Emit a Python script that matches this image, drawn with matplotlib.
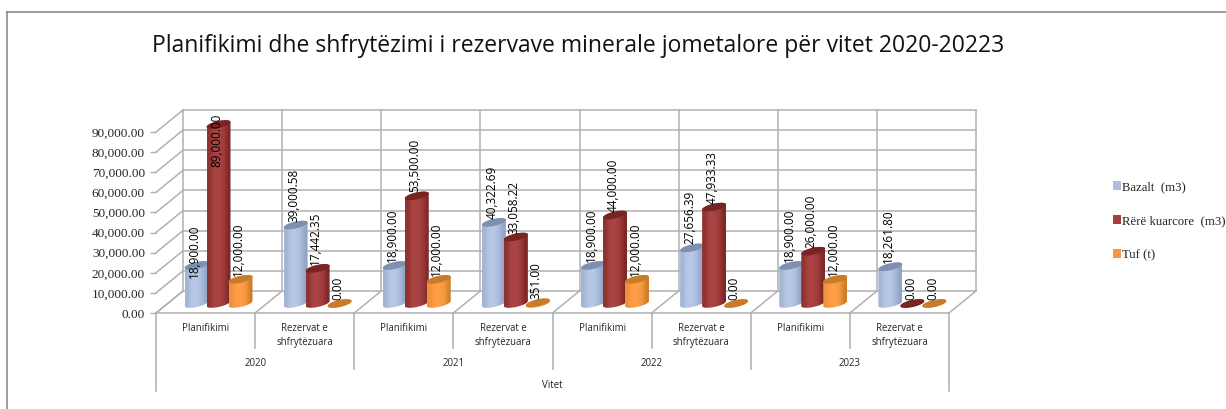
import numpy as np
import matplotlib
matplotlib.use("Agg")
import matplotlib.pyplot as plt
import matplotlib.ticker as mticker
from matplotlib.colors import to_rgb
from matplotlib.patches import Patch, Polygon

# ── Data ──────────────────────────────────────────────────────────────────────
YEARS = ["2020", "2021", "2022", "2023"]
CATEGORIES = ["Planifikimi", "Rezervat e\nshfrytëzuara"] * 4
BAZALT = [18900.00, 39000.58, 18900.00, 40322.69, 18900.00, 27656.39, 18900.00, 18261.80]
RERE = [89000.00, 17442.35, 53500.00, 33058.22, 44000.00, 47933.33, 26000.00, 0.00]
TUF = [12000.00, 0.00, 12000.00, 351.00, 12000.00, 0.00, 12000.00, 0.00]
SERIES_NAMES = ["Bazalt  (m3)", "Rërë kuarcore  (m3)", "Tuf (t)"]
Y_TICKS = list(range(0, 90001, 10000))

# ── Theme ─────────────────────────────────────────────────────────────────────
GRID = "#b0b0b0"
FRAME = "#8c8c8c"
TEXT = "#262626"
SANS = "Open Sans"
SERIF = "Liberation Serif"
SHADES = [
    ["#a3b5d4", "#b5c7e5", "#b7c9e6", "#aabcdb", "#93a6c7"],
    ["#8f3232", "#a84342", "#a94443", "#9f3c3b", "#7f2828"],
    ["#f0913a", "#ff9d45", "#ff9f48", "#f59640", "#cf7f2a"],
]
CAPS = ["#7d90b1", "#7a2323", "#c97c28"]
SWATCH = ["#aebfdc", "#a53f3e", "#f79646"]

# ── Layout (pixels of the 1226x409 figure) ────────────────────────────────────
W, H = 1226, 409
LEFT, RIGHT, FLOOR, TOP_TICK = 156, 949, 313, 132
PX_Y = 90000 / (FLOOR - TOP_TICK)          # value units per pixel
PX_X = 8 / (RIGHT - LEFT)                  # category units per pixel
DEPTH_X, DEPTH_Y = 27 * PX_X, 22 * PX_Y    # offset of the back wall
BASE = 9.5 * PX_Y                          # centre of the bar bottoms
BAR_W = 24 * PX_X
BAR_START = [28.5 * PX_X, 50.5 * PX_X, 72.5 * PX_X]
ELL_B, ELL_SKEW = 3.5 * PX_Y, 2.5 * PX_Y

fig = plt.figure(figsize=(W / 100, H / 100), dpi=100, facecolor="white")
ax = fig.add_axes([LEFT / W, 1 - FLOOR / H, (RIGHT - LEFT) / W, 213 / H])
ax.set_facecolor("none")
y_top = 213 * PX_Y


def ellipse_pts(cx, cy, a, t):
    return np.column_stack([cx + a * np.cos(t), cy + ELL_B * np.sin(t) + ELL_SKEW * np.cos(t)])


def cylinder(x0, value, idx):
    a = BAR_W / 2
    cx = x0 + a
    top = BASE + value
    lower = ellipse_pts(cx, BASE, a, np.linspace(np.pi, 2 * np.pi, 40))
    upper = ellipse_pts(cx, top, a, np.linspace(0, np.pi, 40))
    body = Polygon(np.vstack([lower, upper]), closed=True, fc="none", ec="none", zorder=3)
    ax.add_patch(body)
    grad = np.array([[to_rgb(c) for c in SHADES[idx]]])
    im = ax.imshow(grad, extent=[x0, x0 + BAR_W, BASE - 2 * ELL_B - ELL_SKEW, top + 2 * ELL_B + ELL_SKEW],
                   aspect="auto", interpolation="bilinear", zorder=3)
    im.set_clip_path(body)
    cap = ellipse_pts(cx, top, a, np.linspace(0, 2 * np.pi, 80))
    ax.add_patch(Polygon(cap, closed=True, fc=CAPS[idx], ec="none", zorder=3))


# ── Walls, floor and gridlines ────────────────────────────────────────────────
line = dict(color=GRID, lw=1.1, clip_on=False, zorder=1)
for v in Y_TICKS:
    ax.plot([DEPTH_X, 8 + DEPTH_X], [v + DEPTH_Y, v + DEPTH_Y], **line)
    ax.plot([0, DEPTH_X], [v, v + DEPTH_Y], **line)
for k in range(9):
    ax.plot([k + DEPTH_X, k + DEPTH_X], [DEPTH_Y, 90000 + DEPTH_Y], **line)
    ax.plot([k, k + DEPTH_X], [0, DEPTH_Y], **line)

# ── Bars and value labels ─────────────────────────────────────────────────────
for idx, values in enumerate([BAZALT, RERE, TUF]):
    for k, v in enumerate(values):
        x0 = k + BAR_START[idx]
        cylinder(x0, v, idx)
        # the two tall labels of 2020 sit lower than the rest
        shift = {(0, 0): -16, (1, 0): -46}.get((idx, k), 0)
        ax.annotate(f"{v:,.2f}", xy=(x0 + BAR_W / 2, BASE + v),
                    xytext=(-1.4, (3.5 + shift) * 0.72), textcoords="offset points",
                    rotation=90, ha="center", va="bottom", fontsize=8.5,
                    family=SANS, color="black", zorder=5, annotation_clip=False)

ax.set_xlim(0, 8)
ax.set_ylim(0, y_top)

# ── Axes ──────────────────────────────────────────────────────────────────────
for name in ["top", "right", "left"]:
    ax.spines[name].set_visible(False)
ax.spines["bottom"].set_color(GRID)
ax.spines["bottom"].set_linewidth(1.1)
ax.set_xticks([])
ax.set_yticks(Y_TICKS)
ax.yaxis.set_major_formatter(mticker.FuncFormatter(lambda v, _: f"{v:,.2f}"))
ax.tick_params(axis="y", length=4, width=1.0, color=GRID, pad=4, labelsize=9.5, labelcolor=TEXT)
for lab in ax.get_yticklabels():
    lab.set_family(SERIF)

# multi-level category axis
level = dict(color="#b4b4b4", lw=1.2, clip_on=False, zorder=1)
for k in range(9):
    depth = 35 if k % 2 else 56
    if k in (0, 8):
        depth = 78
    ax.plot([k, k], [0, -depth * PX_Y], **level)
for k, label in enumerate(CATEGORIES):
    ax.text(k + 0.5, -10 * PX_Y, label, ha="center", va="top", fontsize=6.9, family=SANS,
            color=TEXT, linespacing=1.4, clip_on=False)
for k, year in enumerate(YEARS):
    ax.text(2 * k + 1, -51 * PX_Y, year, ha="center", va="center", fontsize=6.9, family=SANS,
            color=TEXT, clip_on=False)
ax.text(4, -73 * PX_Y, "Vitet", ha="center", va="center", fontsize=6.9, family=SANS,
        color=TEXT, clip_on=False)

# ── Legend, title, frame ──────────────────────────────────────────────────────
handles = [Patch(fc=c, ec="none") for c in SWATCH]
fig.legend(handles, SERIES_NAMES, loc="upper left", bbox_to_anchor=(1108 / W, 1 - 176 / H),
           frameon=False, ncol=1, handlelength=0.62, handleheight=0.62, handletextpad=0.1,
           labelspacing=1.72, borderpad=0.4, borderaxespad=0,
           prop=dict(family=SERIF, size=9.2), labelcolor=TEXT)

fig.text(578 / W, 1 - 46 / H, "Planifikimi dhe shfrytëzimi i rezervave minerale jometalore për vitet 2020-20223",
         ha="center", va="center", fontsize=16.5, family=SANS, color="#111111")
fig.add_artist(plt.Line2D([7 / W, 7 / W], [0, 1 - 12 / H], color=FRAME, lw=1.2))
fig.add_artist(plt.Line2D([7 / W, 1], [1 - 12 / H, 1 - 12 / H], color=FRAME, lw=1.2))

fig.savefig("out.png", dpi=100, facecolor="white")
